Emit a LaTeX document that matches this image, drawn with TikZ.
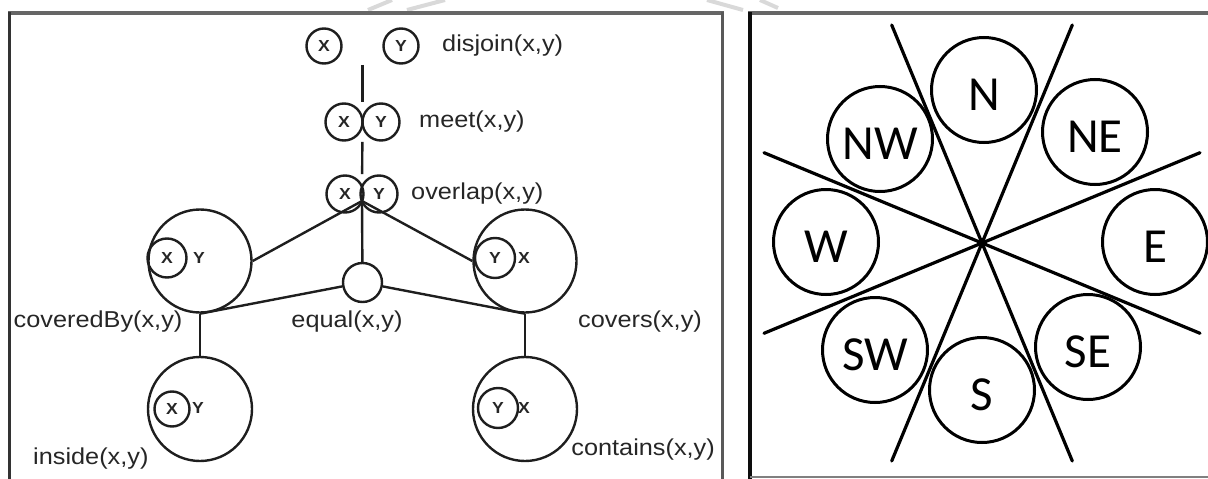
\documentclass[tikz,border=0pt]{standalone}
\usepackage{fontspec}
\setmainfont{Liberation Sans}
\newfontfamily\relfont[FakeStretch=1.1]{Liberation Sans}
\newfontfamily\dirfont{Carlito}
\usepackage{tikz}
\usetikzlibrary{calc,fit}

\definecolor{ink}{HTML}{1E1E1E}
\definecolor{txt}{HTML}{262626}

\begin{document}
\begin{tikzpicture}[x=1pt,y=-1pt,
  rel/.style={circle,draw=ink,line width=2.4pt,minimum size=37pt,inner sep=0pt,
    text=txt,font={\relfont\fontsize{16}{18}\selectfont\bfseries}},
  big/.style={circle,draw=ink,line width=2.4pt,minimum size=103pt,inner sep=0pt},
  tag/.style={inner sep=0pt,text=txt,font={\relfont\fontsize{16}{18}\selectfont\bfseries}},
  lbl/.style={inner sep=0pt,text=txt,font={\relfont\fontsize{23}{26}\selectfont}},
  grp/.style={inner sep=0pt},
  link/.style={draw=ink,line width=2.4pt},
  dir/.style={circle,draw=black,line width=3pt,minimum size=105pt,inner sep=0pt,
    text height=41pt,text depth=0pt,font={\dirfont\fontsize{49}{52}\selectfont}},
  ray/.style={black,line width=3.2pt,line cap=round}]
\useasboundingbox (0,0) rectangle (1208,479);

% faint marks above the frames
\draw[black!15,line width=4pt] (368,10) -- (392,0) (407,10) -- (445,0)
  (707,0) -- (743,10) (760,0) -- (778,8);

% frames
\draw[black!60,line width=4pt] (8,13) -- (724,13);
\draw[black!80,line width=3pt] (9.5,479) -- (9.5,12);
\draw[black!65,line width=2.5pt] (722.5,12) -- (722.5,479);
\draw[black!60,line width=4pt] (748,13) -- (1208,13);
\draw[black!95,line width=3.5pt] (750,479) -- (750,12);
\draw[black!50,line width=2pt] (750,477) -- (1208,477);

% left panel: relations
\node[rel,minimum size=35pt] (djx) at (324,46) {X};
\node[rel,minimum size=35pt] (djy) at (401,46) {Y};
\node[grp,fit=(djx)(djy)] (disjoin) {};
\node[rel] (mtx) at (344,122) {X};
\node[rel] (mty) at (381,122) {Y};
\node[grp,fit=(mtx)(mty)] (meet) {};
\node[rel] (ovx) at (345,194) {X};
\node[rel] (ovy) at (379,194) {Y};
\node[grp,fit=(ovx)(ovy)] (overlap) {};
\coordinate (ovb) at (362,201);
\node[rel,minimum size=39pt] (equal) at (362.5,282.5) {};

\node[big] (coveredBy) at (200,261) {};
\node[rel,minimum size=39pt] (cbx) at (167,258) {X};
\node[tag] (cby) at (199,258) {Y};
\node[big] (covers) at (525,261) {};
\node[rel,minimum size=40pt] (cvy) at (495,258) {Y};
\node[tag] (cvx) at (524,258) {X};
\node[big,minimum size=104pt] (inside) at (200,409) {};
\node[rel,minimum size=35pt] (isx) at (172,409) {X};
\node[tag] (isy) at (198,408) {Y};
\node[big,minimum size=104pt] (contains) at (525,409) {};
\node[rel,minimum size=40pt] (cty) at (498,408) {Y};
\node[tag] (ctx) at (524,408) {X};

\node[lbl,anchor=west] (tdisjoin) at (442,46) {disjoin(x,y)};
\node[lbl,anchor=west] (tmeet) at (419,122) {meet(x,y)};
\node[lbl,anchor=west] (toverlap) at (411,194) {overlap(x,y)};
\node[lbl] (tcoveredBy) at (98,322) {coveredBy(x,y)};
\node[lbl] (tequal) at (347,322) {equal(x,y)};
\node[lbl] (tcovers) at (640,322) {covers(x,y)};
\node[lbl,anchor=west] (tinside) at (33,459) {inside(x,y)};
\node[lbl,anchor=east] (tcontains) at (715,450) {contains(x,y)};

\draw[link] (disjoin) -- (meet);
\draw[link] (meet) -- (overlap);
\draw[link] (ovb) -- (equal);
\draw[link] (ovb) -- (coveredBy.east);
\draw[link] (ovb) -- (covers.west);
\draw[link] (equal) -- (coveredBy.south);
\draw[link] (equal) -- (covers.south);
\draw[link] (coveredBy) -- (inside);
\draw[link] (covers) -- (contains);

% right panel: directions
\coordinate (c) at (982,243);
\foreach \a in {22.5,67.5,112.5,157.5}
  \draw[ray] ($(c)+(\a:236)$) -- ($(c)+(\a:-236)$);
\foreach \d/\x/\y in {N/984/90,NE/1095/132,E/1155/242,SE/1088/347,
    S/982/390,SW/875/350,W/826/242,NW/880/139}
  \node[dir] (\d) at (\x,\y) {\d};
\end{tikzpicture}
\end{document}
